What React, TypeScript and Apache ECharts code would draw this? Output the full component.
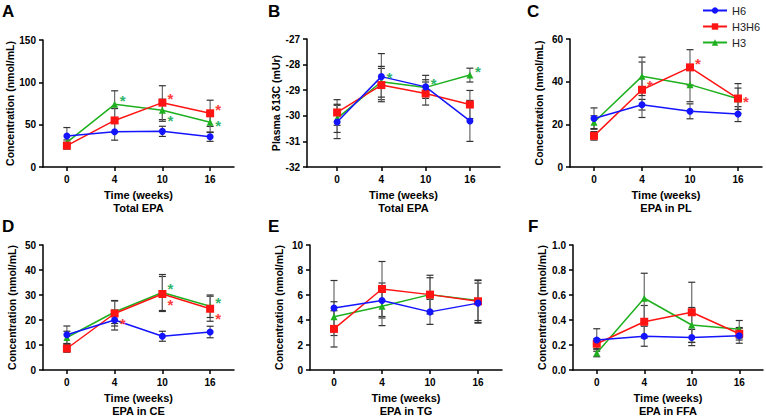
import React, { useEffect, useRef } from "react";
import * as echarts from "echarts";

const FONT = '"Liberation Sans", Arial, sans-serif';

const weeks = ["0", "4", "10", "16"];
const groupNames = ["H6", "H3H6", "H3"];
const groupColors = ["#1414ff", "#ff1414", "#1fb01f"];
const starColors = ["#1414ff", "#ff3a3a", "#2fb56a"];

// Panel A - Total EPA (nmol/mL)
const A_H6 = [36.6, 41.7, 42.1, 35.8];
const A_H6_err = [10, 10, 6, 5.5];
const A_H3H6 = [25.2, 55, 76, 63.4];
const A_H3H6_err = [4, 14, 20, 15.5];
const A_H3 = [29, 74, 67, 52.8];
const A_H3_err = [3, 16, 13, 12];
const A_sig_H3H6 = [0, 0, 1, 1];
const A_sig_H3 = [0, 1, -1, 2];

// Panel B - Plasma δ13C (mUr)
const B_H6 = [-30.24, -28.47, -28.87, -30.2];
const B_H6_err = [0.65, 0.9, 0.45, 0.8];
const B_H3H6 = [-29.87, -28.8, -29.13, -29.56];
const B_H3H6_err = [0.5, 0.65, 0.45, 0.55];
const B_H3 = [-30.1, -28.67, -28.89, -28.41];
const B_H3_err = [0.55, 0.6, 0.3, 0.27];
const B_sig_H3H6 = [0, 0, 0, 0];
const B_sig_H3 = [0, 1, 1, 1];

// Panel C - EPA in PL
const C_H6 = [22.7, 29.2, 26.1, 24.8];
const C_H6_err = [5, 2.5, 3.5, 3.5];
const C_H3H6 = [14.6, 36.2, 46.7, 32.1];
const C_H3H6_err = [2, 13, 8.3, 7];
const C_H3 = [21, 42.5, 38.6, 32];
const C_H3_err = [3, 9, 8, 5];
const C_sig_H3H6 = [0, 1, 1, 2];
const C_sig_H3 = [0, 0, 0, 0];

// Panel D - EPA in CE
const D_H6 = [14.1, 20, 13.5, 15.2];
const D_H6_err = [3.5, 4, 2, 2.3];
const D_H3H6 = [8.6, 22.6, 30.4, 24.5];
const D_H3H6_err = [1.5, 5, 7, 5];
const D_H3 = [13, 23.2, 31, 25.5];
const D_H3_err = [2.5, 4.6, 7.2, 4.5];
const D_sig_H3H6 = [0, -1, -1, -1];
const D_sig_H3 = [0, 0, 1, 1];

// Panel E - EPA in TG
const E_H6 = [4.96, 5.56, 4.65, 5.35];
const E_H6_err = [2.2, 1.4, 1.0, 1.6];
const E_H3H6 = [3.29, 6.48, 6.03, 5.5];
const E_H3H6_err = [1.45, 2.2, 1.55, 1.7];
const E_H3 = [4.26, 5.1, 6.03, 5.56];
const E_H3_err = [1.2, 1.55, 1.35, 1.6];
const E_sig_H3H6 = [0, 0, 0, 0];
const E_sig_H3 = [0, 0, 0, 0];

// Panel F - EPA in FFA
const F_H6 = [0.24, 0.27, 0.26, 0.274];
const F_H6_err = [0.09, 0.08, 0.065, 0.06];
const F_H3H6 = [0.21, 0.386, 0.462, 0.29];
const F_H3H6_err = [0.04, 0.13, 0.24, 0.05];
const F_H3 = [0.136, 0.574, 0.36, 0.326];
const F_H3_err = [0.03, 0.2, 0.14, 0.07];
const F_sig_H3H6 = [0, 0, 0, 0];
const F_sig_H3 = [0, 0, 0, 0];

const yTitles = [
  "Concentration (nmol/mL)",
  "Plasma δ13C (mUr)",
  "Concentration (nmol/mL)",
  "Concentration (nmol/mL)",
  "Concentration (nmol/mL)",
  "Concentration (nmol/mL)",
];
const subTitles = ["Total EPA", "Total EPA", "EPA in PL", "EPA in CE", "EPA in TG", "EPA in FFA"];
const panelLetters = ["A", "B", "C", "D", "E", "F"];

const panels = [
  { vals: [A_H6, A_H3H6, A_H3], errs: [A_H6_err, A_H3H6_err, A_H3_err], sig: [null, A_sig_H3H6, A_sig_H3], yMin: 0, yMax: 150, yInt: 50, dec: 0,
    grid: { left: 43, top: 40, width: 191, height: 127 }, xMin: -0.5, xMax: 3.5, letter: [2, 3] },
  { vals: [B_H6, B_H3H6, B_H3], errs: [B_H6_err, B_H3H6_err, B_H3_err], sig: [null, B_sig_H3H6, B_sig_H3], yMin: -32, yMax: -27, yInt: 1, dec: 0,
    grid: { left: 307, top: 39, width: 193, height: 128 }, xMin: -0.68, xMax: 3.68, letter: [268, 3] },
  { vals: [C_H6, C_H3H6, C_H3], errs: [C_H6_err, C_H3H6_err, C_H3_err], sig: [null, C_sig_H3H6, C_sig_H3], yMin: 0, yMax: 60, yInt: 20, dec: 0,
    grid: { left: 570, top: 39, width: 192, height: 128 }, xMin: -0.5, xMax: 3.5, letter: [527, 3] },
  { vals: [D_H6, D_H3H6, D_H3], errs: [D_H6_err, D_H3H6_err, D_H3_err], sig: [null, D_sig_H3H6, D_sig_H3], yMin: 0, yMax: 50, yInt: 10, dec: 0,
    grid: { left: 43, top: 245, width: 191, height: 128 }, xMin: -0.5, xMax: 3.5, letter: [2, 218] },
  { vals: [E_H6, E_H3H6, E_H3], errs: [E_H6_err, E_H3H6_err, E_H3_err], sig: [null, E_sig_H3H6, E_sig_H3], yMin: 0, yMax: 10, yInt: 2, dec: 0,
    grid: { left: 310, top: 245, width: 192, height: 128 }, xMin: -0.5, xMax: 3.5, letter: [268, 218] },
  { vals: [F_H6, F_H3H6, F_H3], errs: [F_H6_err, F_H3H6_err, F_H3_err], sig: [null, F_sig_H3H6, F_sig_H3], yMin: 0, yMax: 1, yInt: 0.2, dec: 1,
    grid: { left: 573, top: 245, width: 190, height: 128 }, xMin: -0.5, xMax: 3.5, letter: [528, 218] },
];

const groupSymbols = ["circle", "rect", "triangle"];
const groupSymbolSizes = [7, 8, 7];
const groupZ = [6, 5, 4];

function errRender(params: any, api: any) {
  const x = api.value(0);
  const lo = api.coord([x, api.value(1)]);
  const hi = api.coord([x, api.value(2)]);
  const w = 3.5;
  return {
    type: "group",
    children: [
      { type: "line", shape: { x1: lo[0], y1: lo[1], x2: hi[0], y2: hi[1] }, style: { stroke: "#6a6a6a", lineWidth: 1.2 } },
      { type: "line", shape: { x1: lo[0] - w, y1: lo[1], x2: lo[0] + w, y2: lo[1] }, style: { stroke: "#333", lineWidth: 1.2 } },
      { type: "line", shape: { x1: hi[0] - w, y1: hi[1], x2: hi[0] + w, y2: hi[1] }, style: { stroke: "#333", lineWidth: 1.2 } },
    ],
  };
}

function starRender(color: string) {
  return (params: any, api: any) => {
    const x = api.value(0);
    const y = api.value(1);
    const d = api.value(2);
    const c = api.coord([x, y]);
    const dy = d === 1 ? -8 : d === -1 ? 6 : -1;
    return {
      type: "text",
      x: c[0] + 8,
      y: c[1] + dy + 4,
      style: { text: "*", fill: color, font: `bold 15px ${FONT}`, align: "center", verticalAlign: "middle" },
    };
  };
}

export default function App() {
  const ref = useRef<HTMLDivElement>(null);
  useEffect(() => {
    document.body.style.margin = "0";
    const chart = echarts.init(ref.current!, null, { renderer: "svg" });
    const grids: any[] = [];
    const xAxes: any[] = [];
    const yAxes: any[] = [];
    const series: any[] = [];
    const graphics: any[] = [];
    panels.forEach((p, i) => {
      grids.push({ ...p.grid, containLabel: false });
      xAxes.push({
        gridIndex: i,
        type: "value",
        min: p.xMin,
        max: p.xMax,
        axisLine: { onZero: false, lineStyle: { color: "#000", width: 1.5 } },
        axisTick: { customValues: [0, 1, 2, 3], length: 4, lineStyle: { color: "#000", width: 1.5 } },
        axisLabel: {
          customValues: [0, 1, 2, 3],
          formatter: (v: number) => weeks[Math.round(v)],
          fontWeight: "bold", fontSize: 10, color: "#000", margin: 7, fontFamily: FONT,
        },
        splitLine: { show: false },
        name: "Time (weeks)\n" + subTitles[i],
        nameLocation: "middle",
        nameGap: 21,
        nameTextStyle: { fontWeight: "bold", fontSize: 11, color: "#000", fontFamily: FONT, lineHeight: 13, verticalAlign: "top" },
      });
      yAxes.push({
        gridIndex: i,
        type: "value",
        min: p.yMin,
        max: p.yMax,
        interval: p.yInt,
        axisLine: { show: true, onZero: false, lineStyle: { color: "#000", width: 1.5 } },
        axisTick: { show: true, length: 4, lineStyle: { color: "#000", width: 1.5 } },
        axisLabel: {
          formatter: (v: number) => v.toFixed(p.dec),
          fontWeight: "bold", fontSize: 10, color: "#000", margin: 7, fontFamily: FONT,
        },
        splitLine: { show: false },
        name: yTitles[i],
        nameLocation: "middle",
        nameGap: 26,
        nameTextStyle: { fontWeight: "bold", fontSize: 10.5, color: "#000", fontFamily: FONT },
      });
      groupNames.forEach((g, gi) => {
        series.push({
          type: "custom",
          xAxisIndex: i,
          yAxisIndex: i,
          silent: true,
          z: 2,
          encode: { x: 0, y: [1, 2] },
          data: p.vals[gi].map((v, k) => [k, v - p.errs[gi][k], v + p.errs[gi][k]]),
          renderItem: errRender,
        });
      });
      groupNames.forEach((g, gi) => {
        series.push({
          type: "line",
          name: g,
          xAxisIndex: i,
          yAxisIndex: i,
          z: groupZ[gi],
          symbol: groupSymbols[gi],
          symbolSize: groupSymbolSizes[gi],
          showAllSymbol: true,
          lineStyle: { color: groupColors[gi], width: 1.5 },
          itemStyle: { color: groupColors[gi] },
          data: p.vals[gi].map((v, k) => [k, v]),
        });
        const sig = p.sig[gi];
        if (sig) {
          const sd = sig.map((s, k) => (s ? [k, p.vals[gi][k], s] : null)).filter(Boolean);
          if (sd.length) {
            series.push({
              type: "custom",
              xAxisIndex: i,
              yAxisIndex: i,
              silent: true,
              z: 8,
              encode: { x: 0, y: 1 },
              data: sd,
              renderItem: starRender(starColors[gi]),
            });
          }
        }
      });
      graphics.push({
        type: "text",
        left: p.letter[0],
        top: p.letter[1],
        style: { text: panelLetters[i], font: `bold 17px ${FONT}`, fill: "#000" },
      });
    });
    chart.setOption({
      animation: false,
      backgroundColor: "#fff",
      grid: grids,
      xAxis: xAxes,
      yAxis: yAxes,
      series,
      graphic: graphics,
      legend: {
        data: groupNames,
        orient: "vertical",
        left: 697,
        top: 0,
        itemWidth: 24,
        itemHeight: 8,
        itemGap: 5,
        textStyle: { fontSize: 11, color: "#222", fontFamily: FONT },
      },
    });
    return () => chart.dispose();
  }, []);
  return <div ref={ref} style={{ width: 766, height: 418, position: "fixed", left: 0, top: 0 }} />;
}
